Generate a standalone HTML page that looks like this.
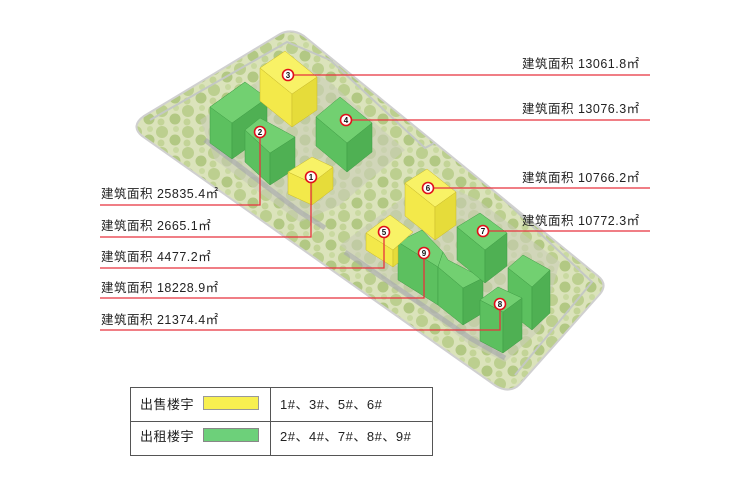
<!DOCTYPE html>
<html><head><meta charset="utf-8"><style>
body{margin:0;background:#fff;width:750px;height:500px;overflow:hidden;font-family:"Liberation Sans","Noto Sans CJK SC",sans-serif}
svg{position:absolute;left:0;top:0}
.lb{font-size:12.5px;fill:#222;letter-spacing:0.5px}
.ln{stroke:#e8323c;stroke-width:1.3;fill:none}
.n{font-size:8px;font-weight:bold;text-anchor:middle;fill:#111}
</style></head><body>
<svg width="750" height="500" viewBox="0 0 750 500">
<defs>
<pattern id="tr" width="26" height="21" patternUnits="userSpaceOnUse">
<rect width="26" height="21" fill="#dbe3bb"/>
<circle cx="6" cy="6" r="6" fill="#bccf8f"/>
<circle cx="19" cy="14" r="5.5" fill="#b2c883"/>
<circle cx="20" cy="3" r="3" fill="#c9d9a0"/>
<circle cx="5" cy="17" r="3.5" fill="#c3d497"/>
</pattern>
<pattern id="sg" width="4" height="3" patternUnits="userSpaceOnUse"><rect width="4" height="3" fill="none"/><line x1="0" y1="2.5" x2="4" y2="2.5" stroke="#000" stroke-opacity="0.08" stroke-width="0.6"/></pattern>
<clipPath id="site"><path d="M280,34 Q292,28 304,36 L598,276 Q608,284 600,294 L520,384 Q510,394 496,386 L142,136 Q130,126 144,116 Z"/></clipPath>
</defs>
<g clip-path="url(#site)">
<rect x="120" y="20" width="500" height="380" fill="url(#tr)"/>
<path d="M200,120 L292,58 L330,82 L405,150 L340,205 L300,222 L215,160 Z" fill="#c9cdb8" opacity="0.6"/>
<path d="M340,245 L430,178 L478,200 L560,262 L540,330 L505,362 L470,345 Z" fill="#c9cdb8" opacity="0.6"/>
<path d="M150,120 L287,42 L330,60 L425,148 L440,140 L592,282 L515,375" stroke="#c4c8c4" stroke-width="2" fill="none"/>
<path d="M205,140 L300,212 L325,228 M345,252 L470,338 L505,358" stroke="#a5a6ad" stroke-width="5" fill="none" opacity="0.6"/>
</g>
<path d="M280,34 Q292,28 304,36 L598,276 Q608,284 600,294 L520,384 Q510,394 496,386 L142,136 Q130,126 144,116 Z" fill="none" stroke="#d0d0d0" stroke-width="2"/>

<g stroke="#3f9c45" stroke-width="0.5">
<path d="M245,82 L210,107 L210,143 L232,159 L232,123 Z" fill="#5cc05f"/>
<path d="M232,123 L267,98 L267,134 L232,159 Z" fill="#4fb053"/>
<path d="M245,82 L267,98 L232,123 L210,107 Z" fill="#72d071"/>
<path d="M245,130 L270,153 L270,185 L245,162 Z" fill="#5cc05f"/>
<path d="M270,153 L295,137 L295,169 L270,185 Z" fill="#4fb053"/>
<path d="M260,118 L295,137 L270,153 L245,130 Z" fill="#72d071"/>
<path d="M316,117 L347,143 L347,172 L316,146 Z" fill="#5cc05f"/>
<path d="M347,143 L372,123 L372,152 L347,172 Z" fill="#4fb053"/>
<path d="M340,97 L372,123 L347,143 L316,117 Z" fill="#72d071"/>
<path d="M398,242 L438,267 L438,305 L398,280 Z" fill="#5cc05f"/>
<path d="M422,230 L443,252 L438,267 L398,242 Z" fill="#72d071"/>
<path d="M438,267 L463,288 L463,325 L438,305 Z" fill="#5cc05f"/>
<path d="M463,288 L483,278 L483,313 L463,325 Z" fill="#4fb053"/>
<path d="M443,252 L448,260 L483,278 L463,288 L438,267 Z" fill="#72d071"/>
<path d="M457,227 L485,250 L485,283 L457,260 Z" fill="#5cc05f"/>
<path d="M485,250 L507,233 L507,266 L485,283 Z" fill="#4fb053"/>
<path d="M480,213 L507,233 L485,250 L457,227 Z" fill="#72d071"/>
<path d="M508,268 L532,287 L532,330 L508,311 Z" fill="#5cc05f"/>
<path d="M532,287 L550,270 L550,313 L532,330 Z" fill="#4fb053"/>
<path d="M523,255 L550,270 L532,287 L508,268 Z" fill="#72d071"/>
<path d="M480,300 L503,312 L503,353 L480,341 Z" fill="#5cc05f"/>
<path d="M503,312 L522,298 L522,339 L503,353 Z" fill="#4fb053"/>
<path d="M498,287 L522,298 L503,312 L480,300 Z" fill="#72d071"/>
</g>
<g stroke="#c9b92a" stroke-width="0.5">
<path d="M260,68 L292,94 L292,127 L260,101 Z" fill="#f3e94a"/>
<path d="M292,94 L317,77 L317,110 L292,127 Z" fill="#e6dc3a"/>
<path d="M285,51 L317,77 L292,94 L260,68 Z" fill="#f8f266"/>
<path d="M288,172 L312,183 L312,205 L288,194 Z" fill="#f3e94a"/>
<path d="M312,183 L333,167 L333,189 L312,205 Z" fill="#e6dc3a"/>
<path d="M312,157 L333,167 L312,183 L288,172 Z" fill="#f8f266"/>
<path d="M405,183 L435,207 L435,240 L405,216 Z" fill="#f3e94a"/>
<path d="M435,207 L456,192 L456,225 L435,240 Z" fill="#e6dc3a"/>
<path d="M427,169 L456,192 L435,207 L405,183 Z" fill="#f8f266"/>
<path d="M366,233 L393,250 L393,267 L366,250 Z" fill="#f3e94a"/>
<path d="M393,250 L398,246 L398,263 L393,267 Z" fill="#e6dc3a"/>
<path d="M390,215 L413,232 L393,250 L366,233 Z" fill="#f8f266"/>
</g>

<g class="ln">
<path d="M288,75 H650"/><path d="M346,120 H650"/><path d="M428,188 H650"/><path d="M483,231 H650"/>
<path d="M100,205 H260 V132"/><path d="M100,237 H311 V177"/><path d="M100,268 H384 V232"/><path d="M100,298 H424 V253"/><path d="M100,330 H500 V304"/>
</g>
<g>
<g fill="#fff" stroke="#e0101a" stroke-width="1.6">
<circle cx="288" cy="75" r="5.5"/><circle cx="346" cy="120" r="5.5"/><circle cx="428" cy="188" r="5.5"/><circle cx="483" cy="231" r="5.5"/>
<circle cx="260" cy="132" r="5.5"/><circle cx="311" cy="177" r="5.5"/><circle cx="384" cy="232" r="5.5"/><circle cx="424" cy="253" r="5.5"/><circle cx="500" cy="304" r="5.5"/>
</g>
<text class="n" x="288" y="78">3</text><text class="n" x="346" y="123">4</text><text class="n" x="428" y="191">6</text><text class="n" x="483" y="234">7</text>
<text class="n" x="260" y="135">2</text><text class="n" x="311" y="180">1</text><text class="n" x="384" y="235">5</text><text class="n" x="424" y="256">9</text><text class="n" x="500" y="307">8</text>
</g>
<g class="lb">
<text x="522" y="68">建筑面积 13061.8㎡</text>
<text x="522" y="113">建筑面积 13076.3㎡</text>
<text x="522" y="182">建筑面积 10766.2㎡</text>
<text x="522" y="225">建筑面积 10772.3㎡</text>
<text x="101" y="198">建筑面积 25835.4㎡</text>
<text x="101" y="230">建筑面积 2665.1㎡</text>
<text x="101" y="261">建筑面积 4477.2㎡</text>
<text x="101" y="292">建筑面积 18228.9㎡</text>
<text x="101" y="324">建筑面积 21374.4㎡</text>
</g>
<rect x="130.5" y="387.5" width="302" height="68" fill="#fff" stroke="#555"/>
<line x1="130" y1="421.5" x2="432" y2="421.5" stroke="#555"/>
<line x1="270.5" y1="387" x2="270.5" y2="455" stroke="#555"/>
<rect x="203.5" y="396.5" width="55" height="13" fill="#f8f050" stroke="#999"/>
<rect x="203.5" y="428.5" width="55" height="13" fill="#6dd07a" stroke="#888"/>
<g class="lb" style="font-size:13px">
<text x="140" y="409">出售楼宇</text><text x="140" y="441">出租楼宇</text>
<text x="280" y="409">1#、3#、5#、6#</text><text x="280" y="441">2#、4#、7#、8#、9#</text>
</g>
</svg>
</body></html>
